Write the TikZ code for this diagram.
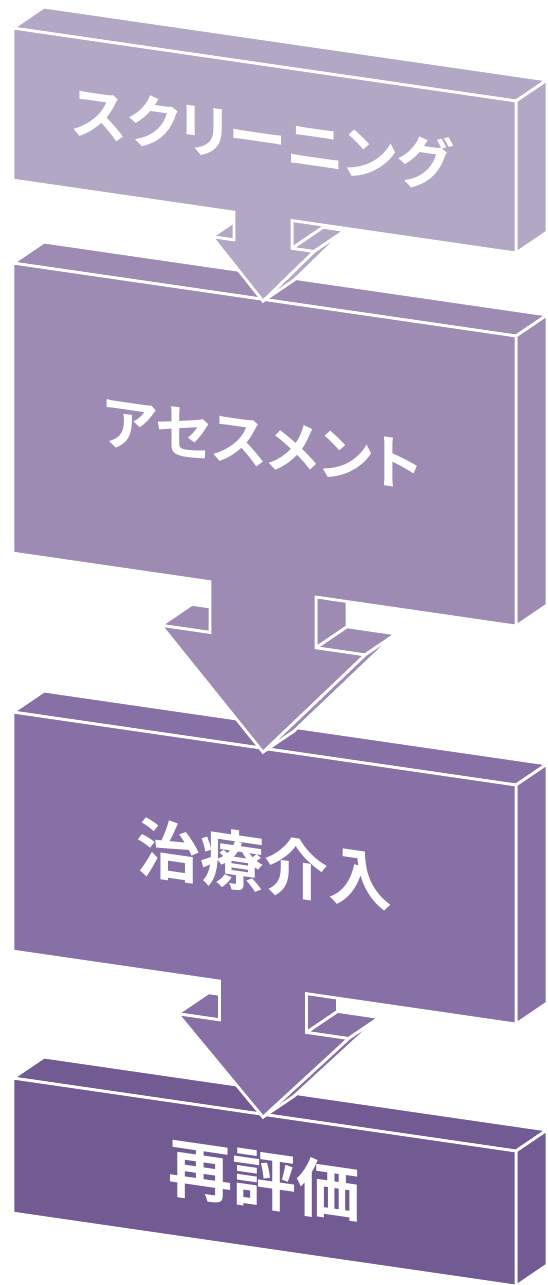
\documentclass[tikz,border=0pt]{standalone}
\usepackage{fontspec}
\usepackage{tikz}
\newfontfamily\jpfont[RawFeature=+palt]{Noto Sans CJK JP Bold}
\definecolor{stepA}{HTML}{B2A7C5}
\definecolor{stepB}{HTML}{9D8BB3}
\definecolor{stepC}{HTML}{8770A5}
\definecolor{stepD}{HTML}{725A93}
\tikzstyle{flow}=[x=1pt, y=-1pt]
\tikzset{facet/.style={fill=#1, draw=white, line width=2.8pt}}
\tikzstyle{steptext}=[text=white, inner sep=0pt, transform shape, font=\jpfont\fontsize{64pt}{64pt}\selectfont]
\tikzstyle{kanatext}=[steptext, font=\jpfont\fontsize{58.5pt}{58.5pt}\selectfont]
\newcommand{\boxL}{13}
\newcommand{\boxR}{516}
\newcommand{\midX}{263}
\newcommand{\depX}{31}
\newcommand{\depY}{-25.5}
% #1 top, #2 bottom, #3 colour
\newcommand{\plainblock}[3]{%
  \filldraw[facet=#3] (\boxL,#1) -- (\boxR,#1) -- ++(\depX,\depY) -- ({\boxL+\depX},{#1+\depY}) -- cycle;
  \filldraw[facet=#3] (\boxR,#1) -- (\boxR,#2) -- ++(\depX,\depY) -- ({\boxR+\depX},{#1+\depY}) -- cycle;
  \filldraw[facet=#3] (\boxL,#1) rectangle (\boxR,#2);
}
% #1 top, #2 bottom, #3 stem end, #4 tip, #5 stem half width, #6 head half width, #7 colour
\newcommand{\stepblock}[7]{%
  \filldraw[facet=#7] (\boxL,#1) -- (\boxR,#1) -- ++(\depX,\depY) -- ({\boxL+\depX},{#1+\depY}) -- cycle;
  \filldraw[facet=#7] (\boxR,#1) -- (\boxR,#2) -- ++(\depX,\depY) -- ({\boxR+\depX},{#1+\depY}) -- cycle;
  %sides of the arrow
  \filldraw[facet=#7] ({\midX-#6},#3) -- ({\midX-#5},#3) -- ++(\depX,\depY) -- ({\midX-#6+\depX},{#3+\depY}) -- cycle;
  \filldraw[facet=#7] ({\midX+#5},#2) -- ({\midX+#5},#3) -- ++(\depX,\depY) -- ({\midX+#5+\depX},{#2+\depY}) -- cycle;
  \filldraw[facet=#7] ({\midX+#5},#3) -- ({\midX+#6},#3) -- ++(\depX,\depY) -- ({\midX+#5+\depX},{#3+\depY}) -- cycle;
  \filldraw[facet=#7] ({\midX+#6},#3) -- (\midX,#4) -- ++(\depX,\depY) -- ({\midX+#6+\depX},{#3+\depY}) -- cycle;
  %front
  \filldraw[facet=#7] (\boxL,#1) -- (\boxR,#1) -- (\boxR,#2) -- ({\midX+#5},#2) -- ({\midX+#5},#3)
    -- ({\midX+#6},#3) -- (\midX,#4) -- ({\midX-#6},#3) -- ({\midX-#5},#3) -- ({\midX-#5},#2) -- (\boxL,#2) -- cycle;
}
\begin{document}
\begin{tikzpicture}[flow]
	\useasboundingbox (0,0) rectangle (547,1285);
	\begin{scope}[yslant=-0.145]
	%bottom block first, each arrow lies on the next one
	\plainblock{1076.2}{1211.2}{stepD}
	\stepblock{710.2}{949.2}{988}{1079}{43.5}{85.5}{stepC}
	\stepblock{261.2}{551.2}{602}{714}{53}{102}{stepB}
	\stepblock{26.2}{178.2}{206}{263}{29}{51}{stepA}
	
	\node[kanatext] (screening) at (262,100) {スクリーニング};
	\node[kanatext] (assessment) at (262,406) {アセスメント};
	\node[steptext] (treatment) at (264,826) {治療介入};
	\node[steptext] (reeval) at (264,1142) {再評価};
	\end{scope}
\end{tikzpicture}
\end{document}
